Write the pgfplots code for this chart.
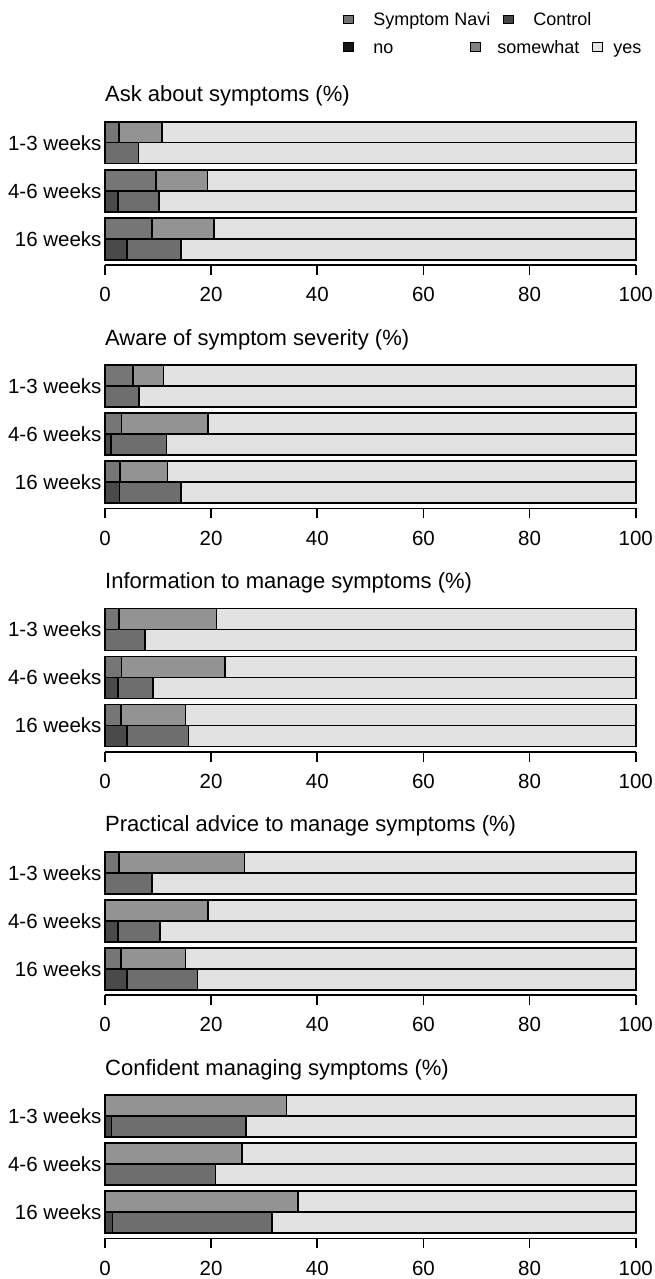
\documentclass[border=0pt]{standalone}
\usepackage{fontspec}
\setmainfont{Liberation Sans}
\usepackage{pgfplots}
\usepackage{pgfplotstable}
\pgfplotsset{compat=1.18}

% bar fills: each group has its own shade for "no" and "somewhat"
\definecolor{snno}{HTML}{767676}
\definecolor{snso}{HTML}{939393}
\definecolor{cno}{HTML}{4A4A4A}
\definecolor{cso}{HTML}{6E6E6E}
\definecolor{yescol}{HTML}{E2E2E2}
% legend swatches
\definecolor{lgsn}{HTML}{737373}
\definecolor{lgc}{HTML}{474747}
\definecolor{lgno}{HTML}{141414}
\definecolor{lgso}{HTML}{828282}
\definecolor{lgyes}{HTML}{E5E5E5}

% columns: pos = bar position, no / so (somewhat) / yes in percent
% Symptom Navi rows sit above the Control rows in each time group
\pgfplotstableread{
pos no so yes
132.8 2.6 8.1 89.3
84.8 9.6 9.7 80.7
36.8 8.8 11.7 79.5
}\askSN
\pgfplotstableread{
pos no so yes
111.8 0.0 6.3 93.7
63.8 2.4 7.8 89.8
15.8 4.1 10.2 85.7
}\askC
\pgfplotstableread{
pos no so yes
132.8 5.3 5.7 89.0
84.8 3.1 16.3 80.6
36.8 2.8 9.0 88.2
}\awareSN
\pgfplotstableread{
pos no so yes
111.8 0.0 6.4 93.6
63.8 1.1 10.5 88.4
15.8 2.7 11.6 85.7
}\awareC
\pgfplotstableread{
pos no so yes
132.8 2.6 18.4 79.0
84.8 3.1 19.5 77.4
36.8 3.0 12.2 84.8
}\infoSN
\pgfplotstableread{
pos no so yes
111.8 0.0 7.5 92.5
63.8 2.5 6.6 90.9
15.8 4.2 11.5 84.3
}\infoC
\pgfplotstableread{
pos no so yes
132.8 2.6 23.7 73.7
84.8 0.0 19.4 80.6
36.8 3.0 12.2 84.8
}\adviceSN
\pgfplotstableread{
pos no so yes
111.8 0.0 8.8 91.2
63.8 2.5 7.9 89.6
15.8 4.2 13.2 82.6
}\adviceC
\pgfplotstableread{
pos no so yes
132.8 0.0 34.2 65.8
84.8 0.0 25.8 74.2
36.8 0.0 36.4 63.6
}\confSN
\pgfplotstableread{
pos no so yes
111.8 1.2 25.4 73.4
63.8 0.0 20.8 79.2
15.8 1.4 30.1 68.5
}\confC

\pgfplotsset{
  barpanel/.style={
    scale only axis, width=530.7pt, height=143.3pt,
    xmin=0, xmax=100, ymin=0, ymax=143.3,
    anchor=south west, clip=false,
    xbar stacked, bar width=21pt,
    every axis plot/.append style={draw=black, line width=1.6pt},
  },
  framed/.style={
    barpanel,
    axis x line*=bottom, axis y line*=left,
    x axis line style={-, line width=1.6pt, line cap=butt},
    y axis line style={draw=none},
    xtick={0,20,...,100}, xtick align=outside, major tick length=10pt,
    xtick style={line width=1.6pt, black},
    ytick={26.3,74.3,122.3},
    yticklabels={16 weeks,4-6 weeks,1-3 weeks},
    ytick style={draw=none},
    tick label style={font=\fontsize{20.5}{24}\selectfont},
    x tick label style={anchor=north, inner sep=0pt, yshift=-12.3pt},
    /pgf/number format/assume math mode=true,
    title style={at={(0,1)}, anchor=base west, yshift=14pt, inner sep=0pt,
      font=\fontsize{22}{26}\selectfont},
  },
  bare/.style={barpanel, hide axis},
}

% one panel: #1 = bottom of the axis (pt below the top), #2 = title,
% #3 = Symptom Navi table, #4 = Control table
\newcommand{\panel}[4]{%
  \begin{axis}[framed, at={(105pt,-#1pt)}, title={#2}]
    \addplot[fill=snno] table[x=no, y=pos] {#3};
    \addplot[fill=snso] table[x=so, y=pos] {#3};
    \addplot[fill=yescol] table[x=yes, y=pos] {#3};
  \end{axis}
  \begin{axis}[bare, at={(105pt,-#1pt)}]
    \addplot[fill=cno] table[x=no, y=pos] {#4};
    \addplot[fill=cso] table[x=so, y=pos] {#4};
    \addplot[fill=yescol] table[x=yes, y=pos] {#4};
  \end{axis}}

\begin{document}
\begin{tikzpicture}
\useasboundingbox (0,0) rectangle (654pt,-1279pt);

% legend
\begin{scope}[font=\fontsize{18}{21}\selectfont, line width=0.9pt]
  \draw[fill=lgsn] (343.3pt,-15pt) rectangle (353.3pt,-23.5pt);
  \node[anchor=base west, inner sep=0pt] at (373pt,-26pt) {Symptom Navi};
  \draw[fill=lgc] (503.3pt,-15pt) rectangle (513.3pt,-23.5pt);
  \node[anchor=base west, inner sep=0pt] at (533pt,-26pt) {Control};
  \draw[fill=lgno] (343.3pt,-42.7pt) rectangle (353.3pt,-51.5pt);
  \node[anchor=base west, inner sep=0pt] at (373pt,-53.3pt) {no};
  \draw[fill=lgso] (470pt,-42.7pt) rectangle (480pt,-51.5pt);
  \node[anchor=base west, inner sep=0pt] at (497pt,-53.3pt) {somewhat};
  \draw[fill=lgyes] (592.7pt,-42.7pt) rectangle (602.7pt,-51.5pt);
  \node[anchor=base west, inner sep=0pt] at (613pt,-53.3pt) {yes};
\end{scope}

\panel{265}{Ask about symptoms (\%)}{\askSN}{\askC}
\panel{508.35}{Aware of symptom severity (\%)}{\awareSN}{\awareC}
\panel{751.7}{Information to manage symptoms (\%)}{\infoSN}{\infoC}
\panel{995.05}{Practical advice to manage symptoms (\%)}{\adviceSN}{\adviceC}
\panel{1238.4}{Confident managing symptoms (\%)}{\confSN}{\confC}
\end{tikzpicture}
\end{document}
